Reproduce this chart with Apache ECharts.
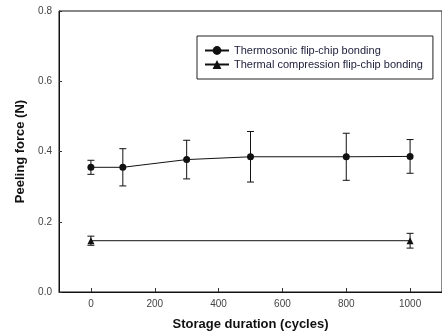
<!DOCTYPE html>
<html>
<head>
<meta charset="utf-8">
<script src="https://cdn.jsdelivr.net/npm/echarts@6/dist/echarts.min.js"></script>
<style>
  html, body { margin: 0; padding: 0; background: #fff; }
  #main { width: 442px; height: 336px; }
</style>
</head>
<body>
<div id="main"></div>
<script>
// storage duration (cycles)
const cyclesTS = [0, 100, 300, 500, 800, 1000];
const forceTS = [0.355, 0.355, 0.377, 0.385, 0.385, 0.386];
const errTS = [0.02, 0.053, 0.055, 0.072, 0.067, 0.048];

const cyclesTC = [0, 1000];
const forceTC = [0.146, 0.146];
const errTC = [0.013, 0.021];

const xTicks = [0, 200, 400, 600, 800, 1000];

const nameTS = 'Thermosonic flip-chip bonding';
const nameTC = 'Thermal compression flip-chip bonding';

const font = 'Liberation Sans, Arial, sans-serif';

function errorSeries(xs, ys, errs) {
    return {
        type: 'custom',
        silent: true,
        data: xs.map((x, i) => [x, ys[i] - errs[i], ys[i] + errs[i]]),
        encode: {x: 0, y: [1, 2]},
        z: 1,
        renderItem: function (params, api) {
            const lo = api.coord([api.value(0), api.value(1)]);
            const hi = api.coord([api.value(0), api.value(2)]);
            const w = 3.5;
            const style = {stroke: '#111', lineWidth: 1};
            return {
                type: 'group',
                children: [
                    {type: 'line', shape: {x1: lo[0], y1: lo[1], x2: hi[0], y2: hi[1]}, style: style},
                    {type: 'line', shape: {x1: lo[0] - w, y1: lo[1], x2: lo[0] + w, y2: lo[1]}, style: style},
                    {type: 'line', shape: {x1: hi[0] - w, y1: hi[1], x2: hi[0] + w, y2: hi[1]}, style: style}
                ]
            };
        }
    };
}

const chart = echarts.init(document.getElementById('main'));
chart.setOption({
    animation: false,
    grid: {
        left: 59, top: 11, bottom: 44, right: -4,
        show: true, borderColor: '#111', borderWidth: 1
    },
    legend: {
        orient: 'vertical',
        left: 197, top: 36,
        padding: [9, 10, 9, 7],
        itemGap: 3,
        itemWidth: 24, itemHeight: 11,
        borderColor: '#222', borderWidth: 1,
        textStyle: {fontFamily: font, fontSize: 11, color: '#1c1c3a'},
        data: [nameTS, nameTC]
    },
    xAxis: {
        type: 'value',
        min: -100, max: 1100,
        name: 'Storage duration (cycles)',
        nameLocation: 'middle',
        nameGap: 26,
        nameTextStyle: {fontFamily: font, fontSize: 13, fontWeight: 'bold', color: '#111'},
        splitLine: {show: false},
        axisLine: {onZero: false, lineStyle: {color: '#111'}},
        axisTick: {inside: true, length: 4, customValues: xTicks, lineStyle: {color: '#333'}},
        axisLabel: {
            customValues: xTicks, margin: 7, fontFamily: font, fontSize: 10, color: '#444',
            formatter: v => String(v)
        }
    },
    yAxis: {
        type: 'value',
        min: 0, max: 0.8, interval: 0.2,
        name: 'Peeling force (N)',
        nameLocation: 'middle',
        nameGap: 29,
        nameTextStyle: {fontFamily: font, fontSize: 13, fontWeight: 'bold', color: '#111'},
        splitLine: {show: false},
        axisLine: {show: true, onZero: false, lineStyle: {color: '#111'}},
        axisTick: {inside: true, length: 3, lineStyle: {color: '#333'}},
        axisLabel: {
            margin: 7, fontFamily: font, fontSize: 10, color: '#444',
            formatter: v => v.toFixed(1)
        }
    },
    series: [
        {
            name: nameTS,
            type: 'line',
            data: cyclesTS.map((x, i) => [x, forceTS[i]]),
            symbol: 'circle', symbolSize: 7,
            itemStyle: {color: '#111'},
            lineStyle: {color: '#111', width: 1},
            z: 3
        },
        {
            name: nameTC,
            type: 'line',
            data: cyclesTC.map((x, i) => [x, forceTC[i]]),
            symbol: 'triangle', symbolSize: 7,
            itemStyle: {color: '#111'},
            lineStyle: {color: '#111', width: 1},
            z: 3
        },
        errorSeries(cyclesTS, forceTS, errTS),
        errorSeries(cyclesTC, forceTC, errTC)
    ]
});
</script>
</body>
</html>
